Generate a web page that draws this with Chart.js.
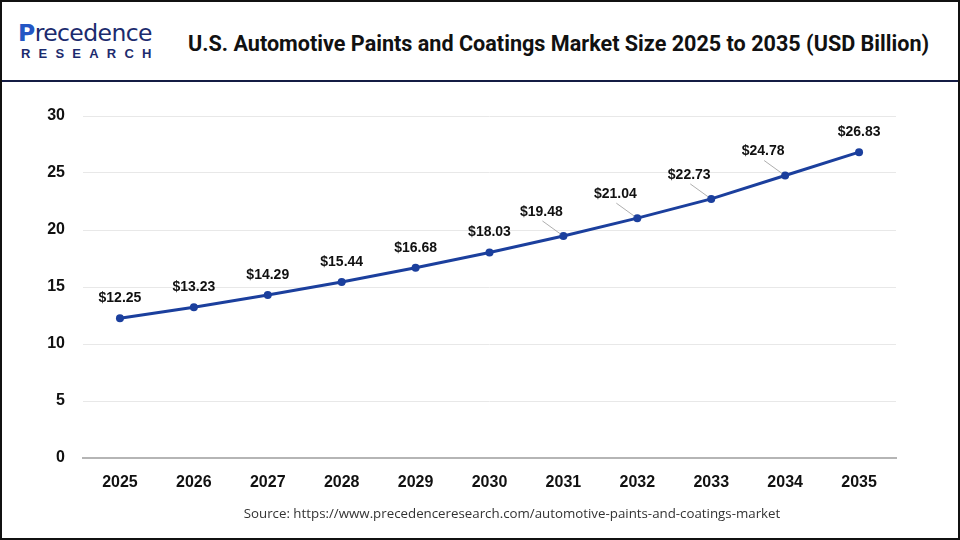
<!DOCTYPE html>
<html>
<head>
<meta charset="utf-8">
<script src="https://cdn.jsdelivr.net/npm/chart.js@4"></script>
<style>
  html, body { margin: 0; padding: 0; background: #fff; }
  #frame {
    position: relative; width: 960px; height: 540px; box-sizing: border-box;
    border: 2px solid #111; overflow: hidden; font-family: 'Liberation Sans', Arial, sans-serif;
  }
  #logo { position: absolute; left: 16px; top: 17px; width: 140px; }
  #logo .top { font-family: 'DejaVu Sans', sans-serif; font-size: 23.5px; color: #1c2b6e; letter-spacing: -0.6px; line-height: 28px; }
  #logo .top b { color: #2456c4; }
  #logo .bottom { font-size: 13px; font-weight: bold; color: #1c2b6e; letter-spacing: 8.2px; line-height: 14px; margin-left: 3px; }
  #title {
    position: absolute; left: 186px; top: 29px; width: 760px;
    font-family: 'Roboto', sans-serif; font-weight: 700; font-size: 21.6px; color: #111; white-space: nowrap;
  }
  #rule { position: absolute; left: 0; top: 78px; width: 960px; height: 2px; background: #141c44; }
  #chartBox { position: absolute; left: -3px; top: 80px; width: 960px; height: 440px; }
  #source {
    position: absolute; left: 0; top: 502px; width: 1020px; text-align: center;
    font-family: 'Open Sans', sans-serif; font-size: 13.3px; color: #333;
  }
</style>
</head>
<body>
<div id="frame">
  <div id="logo"><div class="top"><b>P</b>recedence</div><div class="bottom">RESEARCH</div></div>
  <div id="title">U.S. Automotive Paints and Coatings Market Size 2025 to 2035 (USD Billion)</div>
  <div id="rule"></div>
  <div id="chartBox"><canvas id="marketChart" width="960" height="440"></canvas></div>
  <div id="source">Source: https://www.precedenceresearch.com/automotive-paints-and-coatings-market</div>
</div>
<script>
const years = ['2025', '2026', '2027', '2028', '2029', '2030', '2031', '2032', '2033', '2034', '2035'];
const marketSize = [12.25, 13.23, 14.29, 15.44, 16.68, 18.03, 19.48, 21.04, 22.73, 24.78, 26.83];
const yTicks = [0, 5, 10, 15, 20, 25, 30];

const lineBlue = '#1b3f9d';

// value labels above each point; a few sit up-left with a thin leader line
const valueLabels = {
    id: 'valueLabels',
    afterDatasetsDraw(chart, args, opts) {
        const { ctx } = chart;
        const meta = chart.getDatasetMeta(0);
        ctx.save();
        ctx.font = 'bold 14px "Liberation Sans", Arial, sans-serif';
        ctx.fillStyle = '#111';
        ctx.textAlign = 'center';
        ctx.textBaseline = 'middle';
        meta.data.forEach((pt, i) => {
            const text = '$' + marketSize[i].toFixed(2);
            if (opts.leader.includes(i)) {
                const lx = pt.x - 22, ly = pt.y - 24;
                ctx.strokeStyle = '#999';
                ctx.lineWidth = 0.8;
                ctx.beginPath();
                ctx.moveTo(lx + 1, ly + 9);
                ctx.lineTo(pt.x - 3, pt.y - 2);
                ctx.stroke();
                ctx.fillText(text, lx, ly);
            } else {
                ctx.fillText(text, pt.x, pt.y - 20);
            }
        });
        ctx.restore();
    }
};

const ctx = document.getElementById('marketChart').getContext('2d');
new Chart(ctx, {
    type: 'line',
    data: {
        labels: years,
        datasets: [{
            data: marketSize,
            borderColor: lineBlue,
            backgroundColor: lineBlue,
            borderWidth: 3,
            pointRadius: 4,
            pointBackgroundColor: lineBlue,
            pointBorderWidth: 0,
            tension: 0
        }]
    },
    options: {
        responsive: false,
        animation: false,
        layout: { padding: { left: 0, right: 63, top: 34, bottom: 0 } },
        plugins: {
            legend: { display: false },
            tooltip: { enabled: false },
            valueLabels: { leader: [6, 7, 8, 9] }
        },
        scales: {
            x: {
                offset: true,
                grid: { display: false, drawTicks: false },
                border: { display: true, color: '#b5b5b5', width: 2 },
                ticks: {
                    padding: 15,
                    color: '#111',
                    font: { family: '"Liberation Sans", Arial, sans-serif', size: 16, weight: 'bold' }
                },
                afterFit(scale) { scale.height = 64; }
            },
            y: {
                min: 0,
                max: 30,
                afterBuildTicks(scale) { scale.ticks = yTicks.map(v => ({ value: v })); },
                grid: { color: '#e8e8e8', lineWidth: 1, drawTicks: false },
                border: { display: false },
                ticks: {
                    padding: 18,
                    color: '#111',
                    font: { family: '"Liberation Sans", Arial, sans-serif', size: 16, weight: 'bold' }
                },
                afterFit(scale) { scale.width = 84; }
            }
        }
    },
    plugins: [valueLabels]
});
</script>
</body>
</html>
